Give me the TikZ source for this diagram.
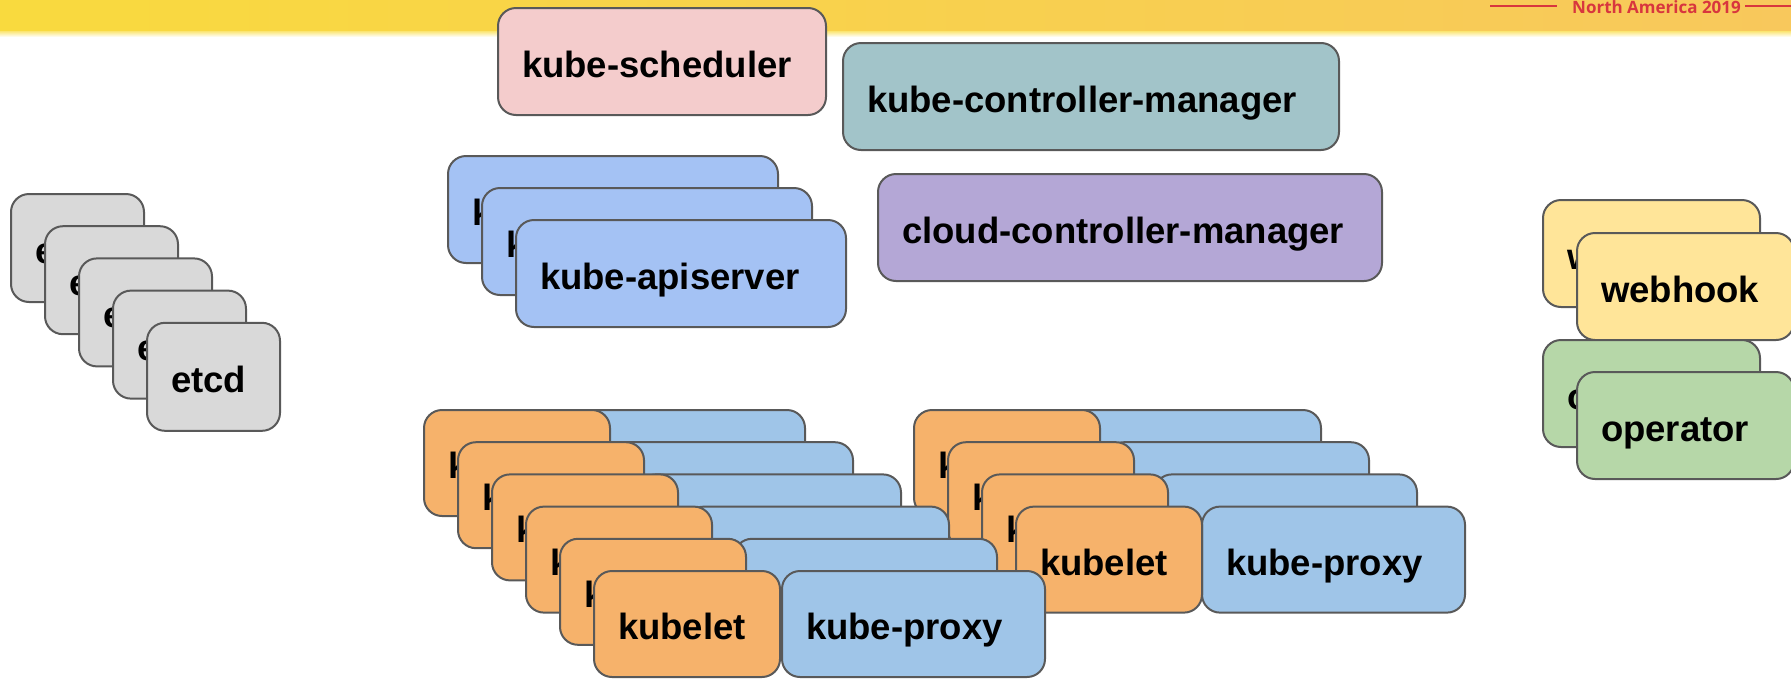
\documentclass[tikz,border=0pt]{standalone}
\usepackage{fontspec}
\setmainfont{Liberation Sans}
\newfontfamily\bannerfont{Open Sans}
\hyphenpenalty=10000
\exhyphenpenalty=10000
\definecolor{bordc}{HTML}{595959}
\definecolor{etcdc}{HTML}{D9D9D9}
\definecolor{apic}{HTML}{A4C2F4}
\definecolor{schedc}{HTML}{F4CCCC}
\definecolor{kcmc}{HTML}{A2C4C9}
\definecolor{ccmc}{HTML}{B4A7D6}
\definecolor{kubeletc}{HTML}{F6B26B}
\definecolor{proxyc}{HTML}{9FC5E8}
\definecolor{webhookc}{HTML}{FFE599}
\definecolor{operatorc}{HTML}{B6D7A8}
\definecolor{banL}{HTML}{F9DA3E}
\definecolor{banM}{HTML}{FBE571}
\definecolor{banR}{HTML}{F8C85C}
\definecolor{redc}{HTML}{D8363E}
\tikzset{
  box/.style={draw=bordc, line width=2pt, rounded corners=18pt, anchor=north west,
    inner xsep=24pt, inner ysep=0pt, outer sep=0pt, align=left,
    font=\fontsize{36.5}{40}\selectfont\bfseries,
    text height=31pt, text depth=0pt, minimum height=107pt},
  redline/.style={draw=redc, line width=1.3pt}
}
\begin{document}
\begin{tikzpicture}[x=1pt,y=-1pt]
\useasboundingbox (0,0) rectangle (1791,678);
% banner
\shade[left color=banL, middle color=banM, right color=banR] (0,0) rectangle (1791,35);
\shade[top color=banM, bottom color=white] (0,31) rectangle (1791,37);
\coordinate (l1) at (1490,6); \coordinate (l2) at (1557,6);
\coordinate (r1) at (1745,6); \coordinate (r2) at (1791,6);
\draw[redline] (l1) -- (l2);
\draw[redline] (r1) -- (r2);
\node[anchor=base west, inner sep=0pt, text=redc, font=\bannerfont\fontsize{17}{20}\selectfont\bfseries] (na) at (1572,13) {North America 2019};
% control plane
\node[box, fill=schedc, text width=280pt] (sched) at (498,8) {kube-scheduler};
\node[box, fill=kcmc, text width=448pt] (kcm) at (843,43) {kube-controller-manager};
\node[box, fill=ccmc, text width=456pt] (ccm) at (878,174) {cloud-controller-manager};
\foreach \i in {0,1,2}
  \node[box, fill=apic, text width=282pt] (api\i) at ({448+34*\i},{156+32*\i}) {kube-apiserver};
% etcd
\foreach \i in {0,...,4}
  \node[box, fill=etcdc, text width=85pt, minimum height=108pt] (etcd\i) at ({11+34*\i},{194+32.2*\i}) {etcd};
% right worker group
\foreach \i in {0,...,3}{
  \node[box, fill=proxyc, text width=215pt, minimum height=106pt] (rp\i) at ({1058+48*\i},{410+32.2*\i}) {kube-proxy};
  \node[box, fill=kubeletc, text width=138pt, minimum height=106pt] (rk\i) at ({914+34*\i},{410+32.2*\i}) {kubelet};
}
% left worker group
\foreach \i in {0,...,5}{
  \node[box, fill=proxyc, text width=215pt, minimum height=106pt] (lp\i) at ({542+48*\i},{410+32.2*\i}) {kube-proxy};
  \node[box, fill=kubeletc, text width=138pt, minimum height=106pt] (lk\i) at ({424+34*\i},{410+32.2*\i}) {kubelet};
}
% extensions
\foreach \i in {0,1}
  \node[box, fill=webhookc, text width=169pt] (wh\i) at ({1543+34*\i},{200+33*\i}) {webhook};
\foreach \i in {0,1}
  \node[box, fill=operatorc, text width=169pt] (op\i) at ({1543+34*\i},{340+32*\i}) {operator};
\end{tikzpicture}
\end{document}
